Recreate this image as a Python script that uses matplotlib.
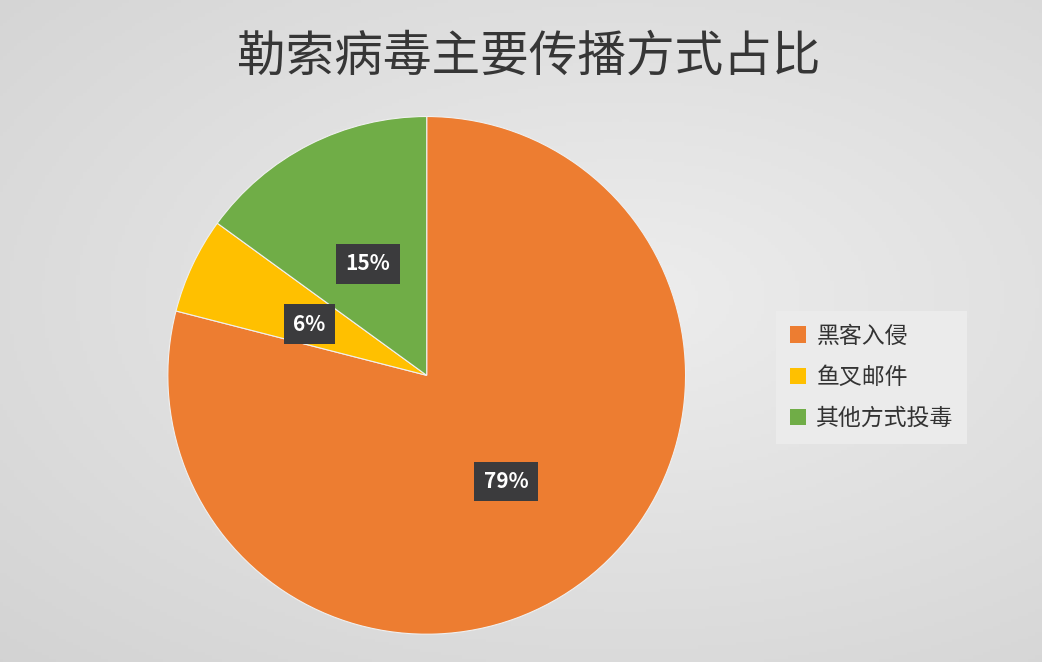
import numpy as np
import matplotlib
matplotlib.use('Agg')
import matplotlib.pyplot as plt
from matplotlib.patches import Patch

plt.rcParams['font.family'] = ['Noto Sans CJK SC', 'DejaVu Sans']

title = '勒索病毒主要传播方式占比'
categories = ['黑客入侵', '鱼叉邮件', '其他方式投毒']
shares = [79, 6, 15]
colors = ['#ED7D31', '#FFC000', '#70AD47']

fig = plt.figure(figsize=(10.42, 6.62), dpi=100)

# soft grey gradient background
bg = fig.add_axes([0, 0, 1, 1])
yy, xx = np.mgrid[0:1:200j, 0:1:300j]
dist = np.sqrt(((xx - 0.6) / 1.0) ** 2 + ((yy - 0.55) / 0.9) ** 2)
grad = 0.93 - 0.12 * dist
bg.imshow(np.dstack([grad, grad, grad]), extent=[0, 1, 0, 1], aspect='auto', origin='lower')
bg.axis('off')

ax = fig.add_axes([0.161, 0.042, 0.497, 0.782])
wedges, texts, autotexts = ax.pie(shares, colors=colors, startangle=90, counterclock=False,
                                  autopct='%d%%', pctdistance=0.5, radius=1,
                                  wedgeprops=dict(edgecolor='#f0f0f0', linewidth=0.8))
for t in autotexts:
    t.set_color('white')
    t.set_fontsize(15)
    t.set_fontweight('bold')
    t.set_bbox(dict(boxstyle='square,pad=0.45', facecolor='#3b3b3d', edgecolor='none'))
    x, y = t.get_position()
    t.set_position((x, y - 0.015))
ax.set_xlim(-1, 1)
ax.set_ylim(-1, 1)
ax.set_aspect('equal')

fig.text(0.507, 0.915, title, ha='center', va='center', fontsize=35, fontweight='medium', color='#363636')

handles = [Patch(facecolor=c, edgecolor='none') for c in colors]
leg = fig.legend(handles, categories, loc='center left', bbox_to_anchor=(0.745, 0.43),
                 fontsize=16.5, frameon=True, fancybox=False, labelspacing=0.8,
                 handlelength=0.7, handleheight=0.7, handletextpad=0.45, borderpad=0.6,
                 borderaxespad=0)
leg.get_frame().set_facecolor('#ebebeb')
leg.get_frame().set_edgecolor('none')
leg.get_frame().set_alpha(1)
for t in leg.get_texts():
    t.set_color('#333333')

fig.savefig('out.png', dpi=100)
